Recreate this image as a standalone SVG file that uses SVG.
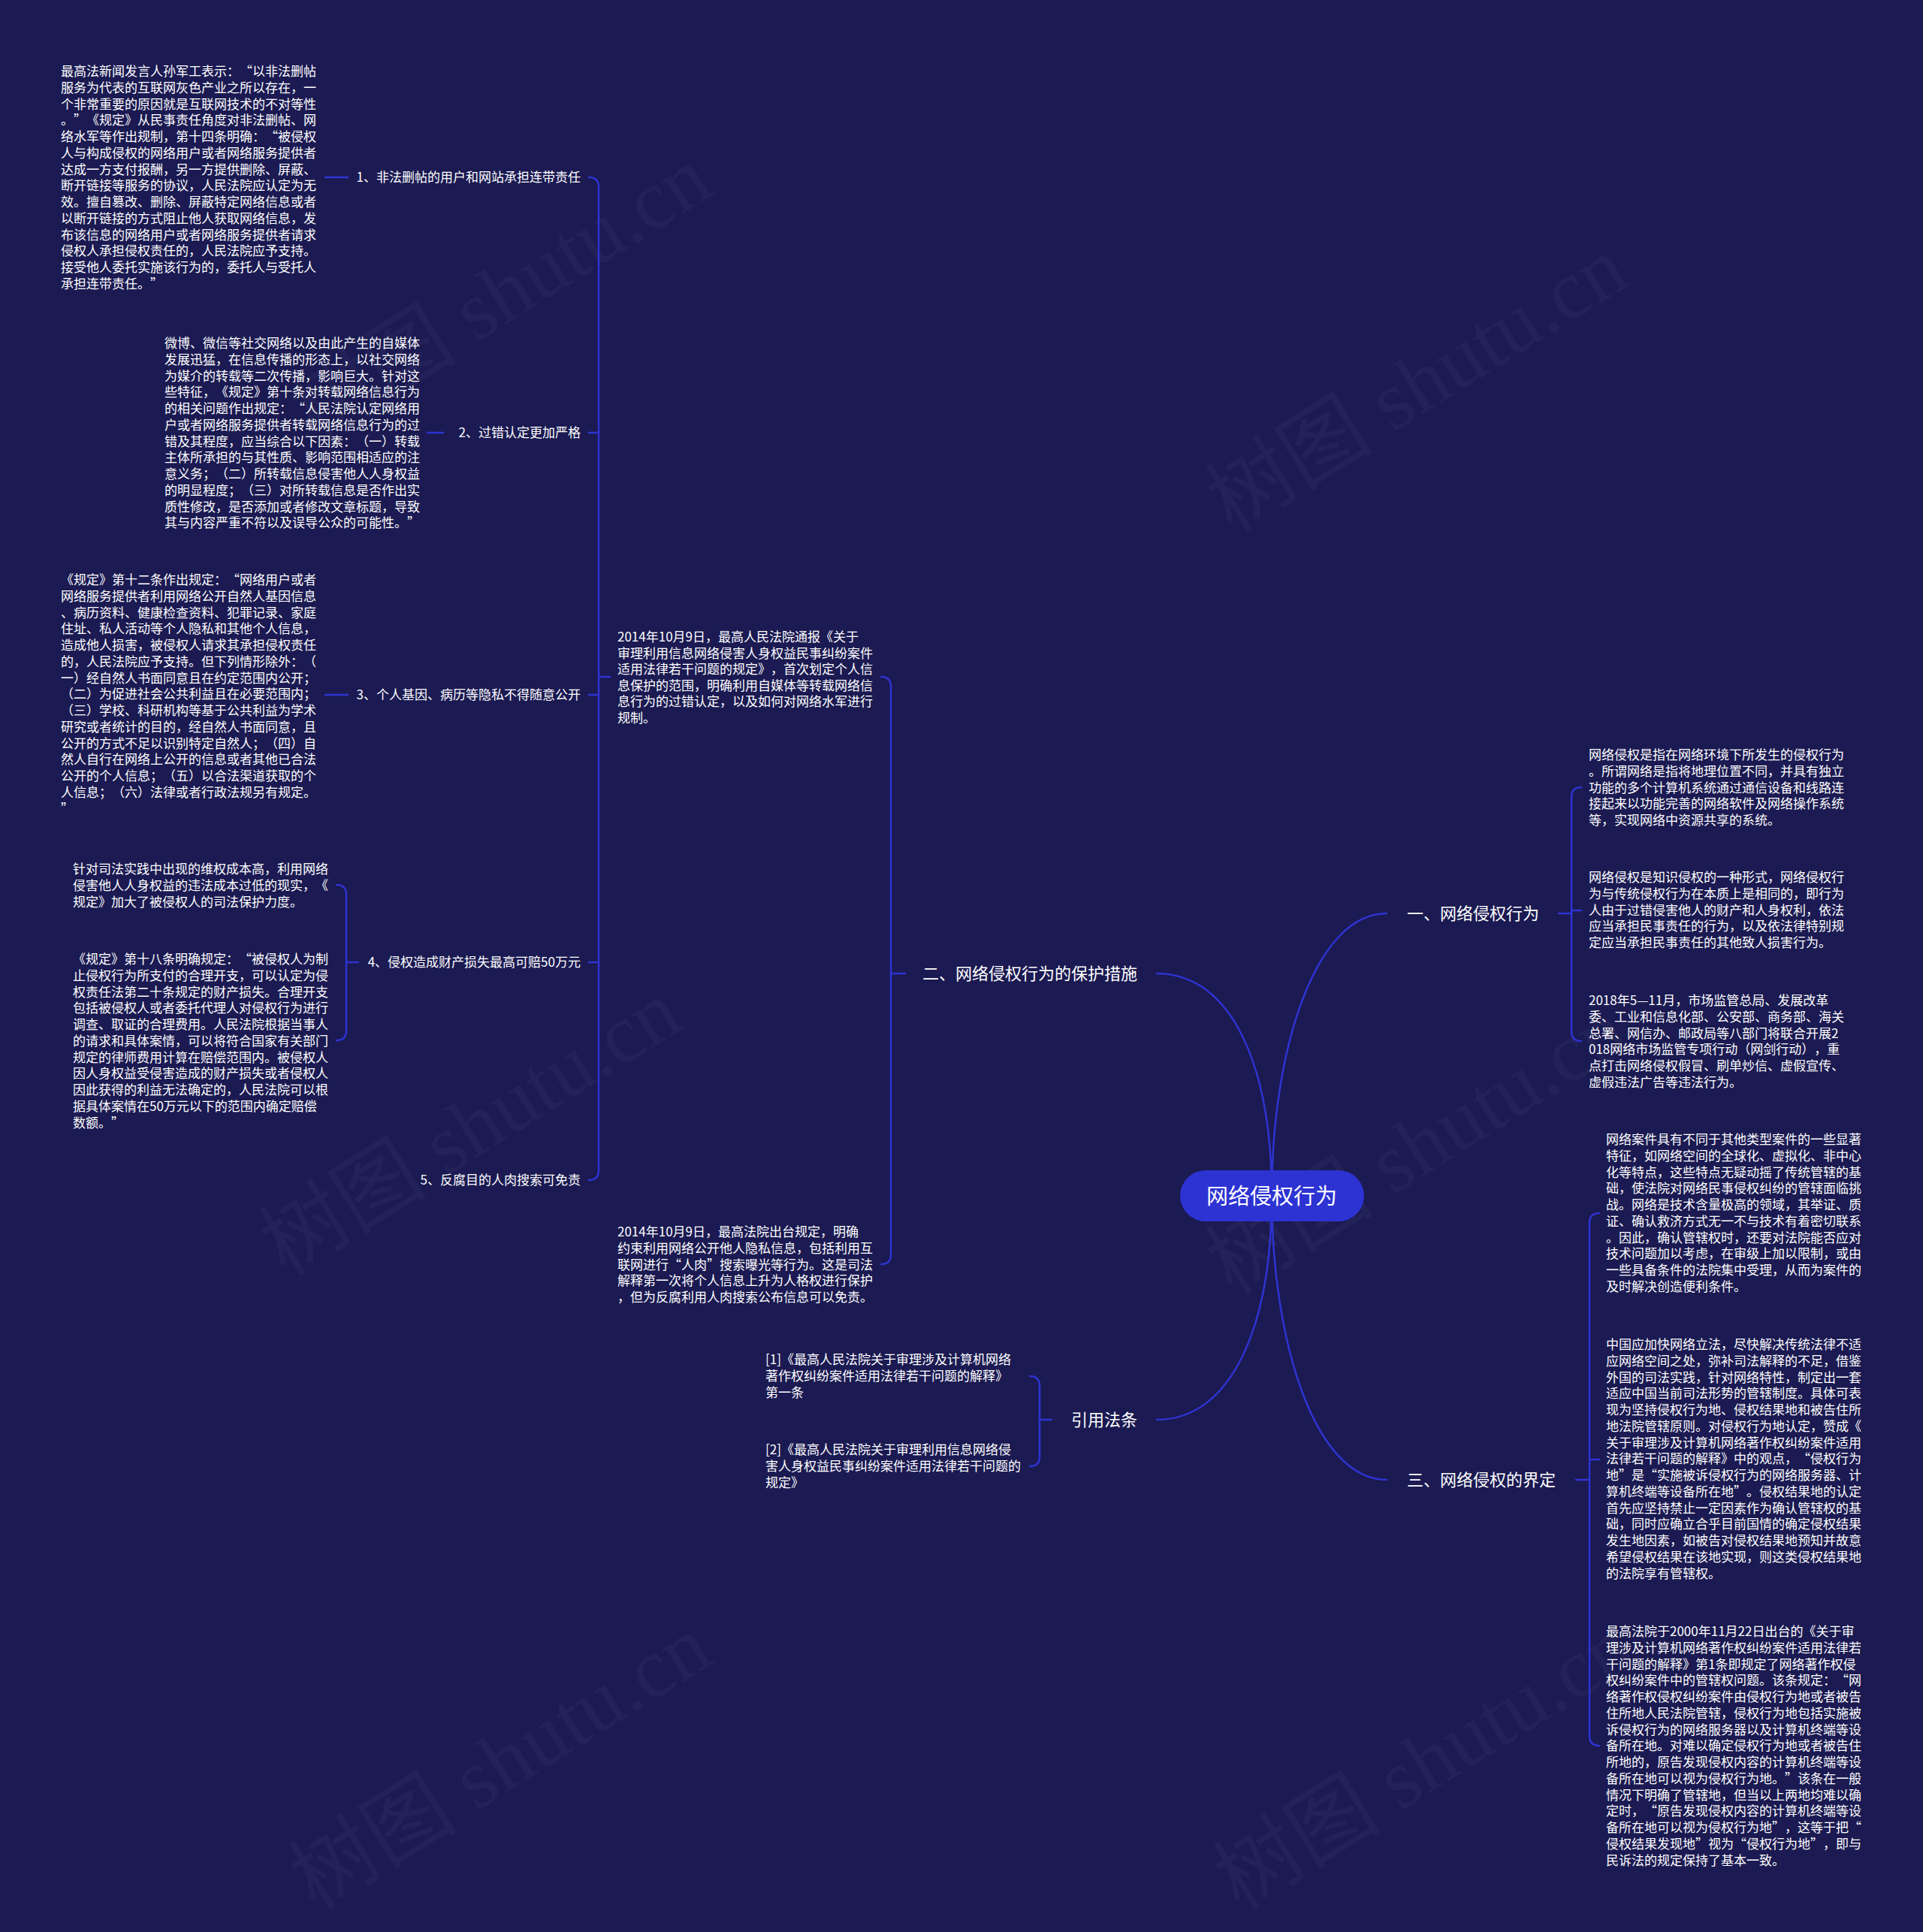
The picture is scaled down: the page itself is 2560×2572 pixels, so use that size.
<svg xmlns="http://www.w3.org/2000/svg" width="2560" height="2572" viewBox="0 0 2560 2572">
<style>
text{text-spacing-trim:space-all}
.t{fill:#ffffff;font-size:17px;font-family:"Noto Sans CJK SC","Noto Sans",sans-serif}
.m{fill:#ffffff;font-size:22px;font-family:"Noto Sans CJK SC","Noto Sans",sans-serif}
.c{fill:#ffffff;font-size:29px;font-family:"Noto Sans CJK SC","Noto Sans",sans-serif}
.ln{fill:none;stroke:#2e33d1;stroke-width:2.5;stroke-linecap:round}
.wm{fill:#ffffff;opacity:0.03;font-size:112px;font-family:"Liberation Serif","Noto Sans CJK SC",serif}
</style>
<rect x="0" y="0" width="2560" height="2572" fill="#1b1a52"/>
<g id="watermarks">
<text class="wm" x="420" y="590" transform="rotate(-32 420 590)">树图 shutu.cn</text>
<text class="wm" x="1640" y="710" transform="rotate(-32 1640 710)">树图 shutu.cn</text>
<text class="wm" x="380" y="1700" transform="rotate(-32 380 1700)">树图 shutu.cn</text>
<text class="wm" x="1640" y="1725" transform="rotate(-32 1640 1725)">树图 shutu.cn</text>
<text class="wm" x="420" y="2545" transform="rotate(-32 420 2545)">树图 shutu.cn</text>
<text class="wm" x="1650" y="2545" transform="rotate(-32 1650 2545)">树图 shutu.cn</text>
</g>
<g id="connectors">
<path class="ln" d="M1693 1592 C1693 1400 1750 1216 1846 1216"/>
<path class="ln" d="M1693 1592 C1693 1420 1640 1296 1540 1296"/>
<path class="ln" d="M1693 1592 C1693 1764 1640 1890 1540 1890"/>
<path class="ln" d="M1693 1592 C1693 1784 1750 1970 1846 1970"/>
<path class="ln" d="M2105 1048 Q2092 1048 2092 1061 L2092 1373 Q2092 1386 2105 1386 M2092 1212 H2105 M2075 1216 H2092"/>
<path class="ln" d="M2129 1615 Q2116 1615 2116 1628 L2116 2311 Q2116 2324 2129 2324 M2116 1943 H2129 M2098 1970 H2116"/>
<path class="ln" d="M1173 901 Q1186 901 1186 914 L1186 1670 Q1186 1683 1173 1683 M1205 1296 H1186"/>
<path class="ln" d="M784 236 Q797 236 797 249 L797 1558 Q797 1571 784 1571 M797 576 H784 M797 925 H784 M797 1281 H784 M812 901 H797"/>
<path class="ln" d="M448 1178 Q461 1178 461 1191 L461 1372 Q461 1385 448 1385 M477 1281 H461"/>
<path class="ln" d="M1371 1832 Q1384 1832 1384 1845 L1384 1939 Q1384 1952 1371 1952 M1400 1890 H1384"/>
<path class="ln" d="M463 236 H433 M590 576 H569 M463 925 H433"/>
</g>
<g id="center">
<rect x="1571" y="1558" width="245" height="68" rx="34" fill="#2d33d3"/>
<text class="c" x="1693" y="1603" text-anchor="middle">网络侵权行为</text>
</g>
<g id="b1">
<text class="m" x="1873" y="1224">一、网络侵权行为</text>
</g>
<g id="b1c1">
<text class="t" x="2115" y="1011"><tspan x="2115" dy="0">网络侵权是指在网络环境下所发生的侵权行为</tspan><tspan x="2115" dy="21.75">。所谓网络是指将地理位置不同，并具有独立</tspan><tspan x="2115" dy="21.75">功能的多个计算机系统通过通信设备和线路连</tspan><tspan x="2115" dy="21.75">接起来以功能完善的网络软件及网络操作系统</tspan><tspan x="2115" dy="21.75">等，实现网络中资源共享的系统。</tspan></text>
</g>
<g id="b1c2">
<text class="t" x="2115" y="1174"><tspan x="2115" dy="0">网络侵权是知识侵权的一种形式，网络侵权行</tspan><tspan x="2115" dy="21.75">为与传统侵权行为在本质上是相同的，即行为</tspan><tspan x="2115" dy="21.75">人由于过错侵害他人的财产和人身权利，依法</tspan><tspan x="2115" dy="21.75">应当承担民事责任的行为，以及依法律特别规</tspan><tspan x="2115" dy="21.75">定应当承担民事责任的其他致人损害行为。</tspan></text>
</g>
<g id="b1c3">
<text class="t" x="2115" y="1338"><tspan x="2115" dy="0">2018年5—11月，市场监管总局、发展改革</tspan><tspan x="2115" dy="21.75">委、工业和信息化部、公安部、商务部、海关</tspan><tspan x="2115" dy="21.75">总署、网信办、邮政局等八部门将联合开展2</tspan><tspan x="2115" dy="21.75">018网络市场监管专项行动（网剑行动），重</tspan><tspan x="2115" dy="21.75">点打击网络侵权假冒、刷单炒信、虚假宣传、</tspan><tspan x="2115" dy="21.75">虚假违法广告等违法行为。</tspan></text>
</g>
<g id="b2">
<text class="m" x="1514" y="1304" text-anchor="end">二、网络侵权行为的保护措施</text>
</g>
<g id="b2c1">
<text class="t" x="822" y="854"><tspan x="822" dy="0">2014年10月9日，最高人民法院通报《关于</tspan><tspan x="822" dy="21.5">审理利用信息网络侵害人身权益民事纠纷案件</tspan><tspan x="822" dy="21.5">适用法律若干问题的规定》，首次划定个人信</tspan><tspan x="822" dy="21.5">息保护的范围，明确利用自媒体等转载网络信</tspan><tspan x="822" dy="21.5">息行为的过错认定，以及如何对网络水军进行</tspan><tspan x="822" dy="21.5">规制。</tspan></text>
</g>
<g id="s1">
<text class="t" x="773" y="242" text-anchor="end">1、非法删帖的用户和网站承担连带责任</text>
</g>
<g id="s1c">
<text class="t" x="81" y="101"><tspan x="81" dy="0">最高法新闻发言人孙军工表示：“以非法删帖</tspan><tspan x="81" dy="21.75">服务为代表的互联网灰色产业之所以存在，一</tspan><tspan x="81" dy="21.75">个非常重要的原因就是互联网技术的不对等性</tspan><tspan x="81" dy="21.75">。”《规定》从民事责任角度对非法删帖、网</tspan><tspan x="81" dy="21.75">络水军等作出规制，第十四条明确：“被侵权</tspan><tspan x="81" dy="21.75">人与构成侵权的网络用户或者网络服务提供者</tspan><tspan x="81" dy="21.75">达成一方支付报酬，另一方提供删除、屏蔽、</tspan><tspan x="81" dy="21.75">断开链接等服务的协议，人民法院应认定为无</tspan><tspan x="81" dy="21.75">效。擅自篡改、删除、屏蔽特定网络信息或者</tspan><tspan x="81" dy="21.75">以断开链接的方式阻止他人获取网络信息，发</tspan><tspan x="81" dy="21.75">布该信息的网络用户或者网络服务提供者请求</tspan><tspan x="81" dy="21.75">侵权人承担侵权责任的，人民法院应予支持。</tspan><tspan x="81" dy="21.75">接受他人委托实施该行为的，委托人与受托人</tspan><tspan x="81" dy="21.75">承担连带责任。”</tspan></text>
</g>
<g id="s2">
<text class="t" x="773" y="582" text-anchor="end">2、过错认定更加严格</text>
</g>
<g id="s2c">
<text class="t" x="219" y="463"><tspan x="219" dy="0">微博、微信等社交网络以及由此产生的自媒体</tspan><tspan x="219" dy="21.75">发展迅猛，在信息传播的形态上，以社交网络</tspan><tspan x="219" dy="21.75">为媒介的转载等二次传播，影响巨大。针对这</tspan><tspan x="219" dy="21.75">些特征，《规定》第十条对转载网络信息行为</tspan><tspan x="219" dy="21.75">的相关问题作出规定：“人民法院认定网络用</tspan><tspan x="219" dy="21.75">户或者网络服务提供者转载网络信息行为的过</tspan><tspan x="219" dy="21.75">错及其程度，应当综合以下因素：（一）转载</tspan><tspan x="219" dy="21.75">主体所承担的与其性质、影响范围相适应的注</tspan><tspan x="219" dy="21.75">意义务；（二）所转载信息侵害他人人身权益</tspan><tspan x="219" dy="21.75">的明显程度；（三）对所转载信息是否作出实</tspan><tspan x="219" dy="21.75">质性修改，是否添加或者修改文章标题，导致</tspan><tspan x="219" dy="21.75">其与内容严重不符以及误导公众的可能性。”</tspan></text>
</g>
<g id="s3">
<text class="t" x="773" y="931" text-anchor="end">3、个人基因、病历等隐私不得随意公开</text>
</g>
<g id="s3c">
<text class="t" x="81" y="778"><tspan x="81" dy="0">《规定》第十二条作出规定：“网络用户或者</tspan><tspan x="81" dy="21.75">网络服务提供者利用网络公开自然人基因信息</tspan><tspan x="81" dy="21.75">、病历资料、健康检查资料、犯罪记录、家庭</tspan><tspan x="81" dy="21.75">住址、私人活动等个人隐私和其他个人信息，</tspan><tspan x="81" dy="21.75">造成他人损害，被侵权人请求其承担侵权责任</tspan><tspan x="81" dy="21.75">的，人民法院应予支持。但下列情形除外：（</tspan><tspan x="81" dy="21.75">一）经自然人书面同意且在约定范围内公开；</tspan><tspan x="81" dy="21.75">（二）为促进社会公共利益且在必要范围内；</tspan><tspan x="81" dy="21.75">（三）学校、科研机构等基于公共利益为学术</tspan><tspan x="81" dy="21.75">研究或者统计的目的，经自然人书面同意，且</tspan><tspan x="81" dy="21.75">公开的方式不足以识别特定自然人；（四）自</tspan><tspan x="81" dy="21.75">然人自行在网络上公开的信息或者其他已合法</tspan><tspan x="81" dy="21.75">公开的个人信息；（五）以合法渠道获取的个</tspan><tspan x="81" dy="21.75">人信息；（六）法律或者行政法规另有规定。</tspan><tspan x="81" dy="21.75">”</tspan></text>
</g>
<g id="s4">
<text class="t" x="773" y="1287" text-anchor="end">4、侵权造成财产损失最高可赔50万元</text>
</g>
<g id="s4c1">
<text class="t" x="97" y="1163"><tspan x="97" dy="0">针对司法实践中出现的维权成本高，利用网络</tspan><tspan x="97" dy="21.75">侵害他人人身权益的违法成本过低的现实，《</tspan><tspan x="97" dy="21.75">规定》加大了被侵权人的司法保护力度。</tspan></text>
</g>
<g id="s4c2">
<text class="t" x="97" y="1283"><tspan x="97" dy="0">《规定》第十八条明确规定：“被侵权人为制</tspan><tspan x="97" dy="21.75">止侵权行为所支付的合理开支，可以认定为侵</tspan><tspan x="97" dy="21.75">权责任法第二十条规定的财产损失。合理开支</tspan><tspan x="97" dy="21.75">包括被侵权人或者委托代理人对侵权行为进行</tspan><tspan x="97" dy="21.75">调查、取证的合理费用。人民法院根据当事人</tspan><tspan x="97" dy="21.75">的请求和具体案情，可以将符合国家有关部门</tspan><tspan x="97" dy="21.75">规定的律师费用计算在赔偿范围内。被侵权人</tspan><tspan x="97" dy="21.75">因人身权益受侵害造成的财产损失或者侵权人</tspan><tspan x="97" dy="21.75">因此获得的利益无法确定的，人民法院可以根</tspan><tspan x="97" dy="21.75">据具体案情在50万元以下的范围内确定赔偿</tspan><tspan x="97" dy="21.75">数额。”</tspan></text>
</g>
<g id="s5">
<text class="t" x="773" y="1577" text-anchor="end">5、反腐目的人肉搜索可免责</text>
</g>
<g id="b2c2">
<text class="t" x="822" y="1646"><tspan x="822" dy="0">2014年10月9日，最高法院出台规定，明确</tspan><tspan x="822" dy="21.75">约束利用网络公开他人隐私信息，包括利用互</tspan><tspan x="822" dy="21.75">联网进行“人肉”搜索曝光等行为。这是司法</tspan><tspan x="822" dy="21.75">解释第一次将个人信息上升为人格权进行保护</tspan><tspan x="822" dy="21.75">，但为反腐利用人肉搜索公布信息可以免责。</tspan></text>
</g>
<g id="b3">
<text class="m" x="1514" y="1898" text-anchor="end">引用法条</text>
</g>
<g id="b3c1">
<text class="t" x="1019" y="1816"><tspan x="1019" dy="0">[1]《最高人民法院关于审理涉及计算机网络</tspan><tspan x="1019" dy="21.75">著作权纠纷案件适用法律若干问题的解释》</tspan><tspan x="1019" dy="21.75">第一条</tspan></text>
</g>
<g id="b3c2">
<text class="t" x="1019" y="1936"><tspan x="1019" dy="0">[2]《最高人民法院关于审理利用信息网络侵</tspan><tspan x="1019" dy="21.75">害人身权益民事纠纷案件适用法律若干问题的</tspan><tspan x="1019" dy="21.75">规定》</tspan></text>
</g>
<g id="b4">
<text class="m" x="1873" y="1978">三、网络侵权的界定</text>
</g>
<g id="b4c1">
<text class="t" x="2138" y="1523"><tspan x="2138" dy="0">网络案件具有不同于其他类型案件的一些显著</tspan><tspan x="2138" dy="21.75">特征，如网络空间的全球化、虚拟化、非中心</tspan><tspan x="2138" dy="21.75">化等特点，这些特点无疑动摇了传统管辖的基</tspan><tspan x="2138" dy="21.75">础，使法院对网络民事侵权纠纷的管辖面临挑</tspan><tspan x="2138" dy="21.75">战。网络是技术含量极高的领域，其举证、质</tspan><tspan x="2138" dy="21.75">证、确认救济方式无一不与技术有着密切联系</tspan><tspan x="2138" dy="21.75">。因此，确认管辖权时，还要对法院能否应对</tspan><tspan x="2138" dy="21.75">技术问题加以考虑，在审级上加以限制，或由</tspan><tspan x="2138" dy="21.75">一些具备条件的法院集中受理，从而为案件的</tspan><tspan x="2138" dy="21.75">及时解决创造便利条件。</tspan></text>
</g>
<g id="b4c2">
<text class="t" x="2138" y="1796"><tspan x="2138" dy="0">中国应加快网络立法，尽快解决传统法律不适</tspan><tspan x="2138" dy="21.75">应网络空间之处，弥补司法解释的不足，借鉴</tspan><tspan x="2138" dy="21.75">外国的司法实践，针对网络特性，制定出一套</tspan><tspan x="2138" dy="21.75">适应中国当前司法形势的管辖制度。具体可表</tspan><tspan x="2138" dy="21.75">现为坚持侵权行为地、侵权结果地和被告住所</tspan><tspan x="2138" dy="21.75">地法院管辖原则。对侵权行为地认定，赞成《</tspan><tspan x="2138" dy="21.75">关于审理涉及计算机网络著作权纠纷案件适用</tspan><tspan x="2138" dy="21.75">法律若干问题的解释》中的观点，“侵权行为</tspan><tspan x="2138" dy="21.75">地”是“实施被诉侵权行为的网络服务器、计</tspan><tspan x="2138" dy="21.75">算机终端等设备所在地”。侵权结果地的认定</tspan><tspan x="2138" dy="21.75">首先应坚持禁止一定因素作为确认管辖权的基</tspan><tspan x="2138" dy="21.75">础，同时应确立合乎目前国情的确定侵权结果</tspan><tspan x="2138" dy="21.75">发生地因素，如被告对侵权结果地预知并故意</tspan><tspan x="2138" dy="21.75">希望侵权结果在该地实现，则这类侵权结果地</tspan><tspan x="2138" dy="21.75">的法院享有管辖权。</tspan></text>
</g>
<g id="b4c3">
<text class="t" x="2138" y="2178"><tspan x="2138" dy="0">最高法院于2000年11月22日出台的《关于审</tspan><tspan x="2138" dy="21.75">理涉及计算机网络著作权纠纷案件适用法律若</tspan><tspan x="2138" dy="21.75">干问题的解释》第1条即规定了网络著作权侵</tspan><tspan x="2138" dy="21.75">权纠纷案件中的管辖权问题。该条规定：“网</tspan><tspan x="2138" dy="21.75">络著作权侵权纠纷案件由侵权行为地或者被告</tspan><tspan x="2138" dy="21.75">住所地人民法院管辖，侵权行为地包括实施被</tspan><tspan x="2138" dy="21.75">诉侵权行为的网络服务器以及计算机终端等设</tspan><tspan x="2138" dy="21.75">备所在地。对难以确定侵权行为地或者被告住</tspan><tspan x="2138" dy="21.75">所地的，原告发现侵权内容的计算机终端等设</tspan><tspan x="2138" dy="21.75">备所在地可以视为侵权行为地。”该条在一般</tspan><tspan x="2138" dy="21.75">情况下明确了管辖地，但当以上两地均难以确</tspan><tspan x="2138" dy="21.75">定时，“原告发现侵权内容的计算机终端等设</tspan><tspan x="2138" dy="21.75">备所在地可以视为侵权行为地”，这等于把“</tspan><tspan x="2138" dy="21.75">侵权结果发现地”视为“侵权行为地”，即与</tspan><tspan x="2138" dy="21.75">民诉法的规定保持了基本一致。</tspan></text>
</g>
</svg>
